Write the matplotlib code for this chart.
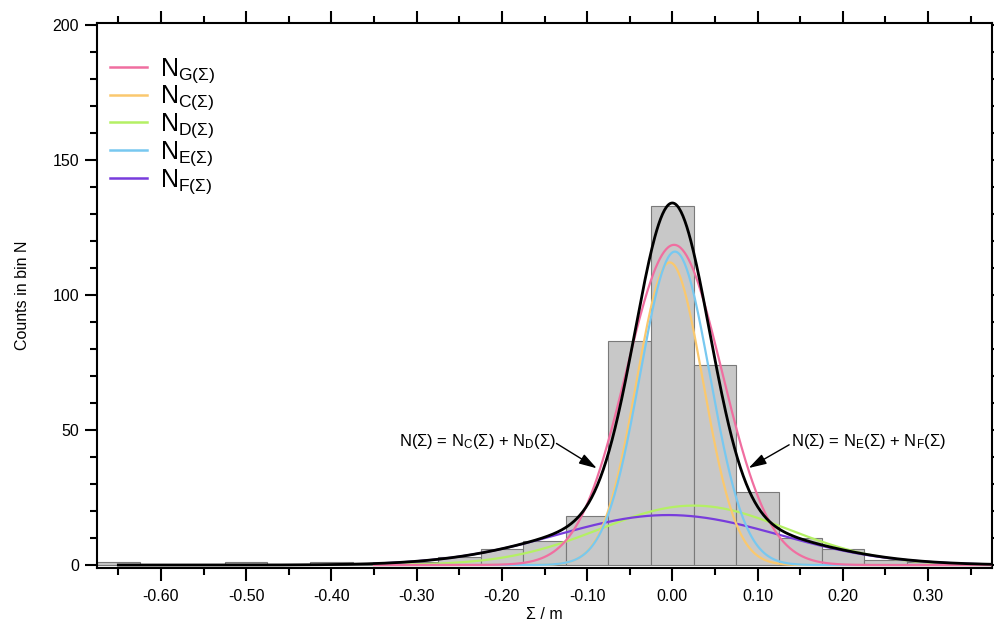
import numpy as np
import matplotlib
matplotlib.use('Agg')
import matplotlib.pyplot as plt

plt.rcParams['font.family'] = ['Liberation Sans', 'DejaVu Sans']
plt.rcParams['mathtext.fontset'] = 'custom'
plt.rcParams['mathtext.rm'] = 'Liberation Sans'
plt.rcParams['mathtext.it'] = 'Liberation Sans:italic'
plt.rcParams['mathtext.bf'] = 'Liberation Sans:bold'

# ----------------------------------------------------------------------
# histogram (bin centres in m, counts)
# ----------------------------------------------------------------------
bin_centres = [-0.65, -0.60, -0.55, -0.50, -0.45, -0.40, -0.35, -0.30,
               -0.25, -0.20, -0.15, -0.10, -0.05, 0.00, 0.05, 0.10,
               0.15, 0.20, 0.25, 0.30, 0.35]
counts = [1, 0, 0, 1, 0, 1, 0, 1,
          3, 6, 9, 18, 83, 133, 74, 27,
          10, 6, 2, 1, 0]
BIN_W = 0.05

# fitted Gaussian components: amplitude, centre, width
fit_names = ['G', 'C', 'D', 'E', 'F']
fit_amp = [118.5, 112.0, 22.0, 116.0, 18.5]
fit_mu = [0.002, -0.003, 0.025, 0.003, -0.005]
fit_sigma = [0.056, 0.039, 0.110, 0.041, 0.130]
fit_colors = ['#F06EA0', '#FAC86E', '#B4F064', '#78C8F0', '#783CDC']

# total fit N(Σ): narrow + broad part
total_amp = [115.0, 19.0]
total_mu = [0.0, -0.003]
total_sigma = [0.043, 0.130]


def gauss(x, a, mu, s):
    return a * np.exp(-(x - mu) ** 2 / (2 * s ** 2))


fig = plt.figure(figsize=(9.95, 6.22), dpi=100)
ax = fig.add_axes([0.0975, 0.0868, 0.8995, 0.8762])

ax.bar(bin_centres, counts, width=BIN_W, color='#c8c8c8',
       edgecolor='#7a7a7a', linewidth=0.8, zorder=1)

xs = np.linspace(-0.35, 0.375, 600)
draw_order = [2, 4, 1, 3, 0]  # D, F, C, E, G
for i in draw_order:
    ax.plot(xs, gauss(xs, fit_amp[i], fit_mu[i], fit_sigma[i]),
            color=fit_colors[i], lw=1.6, zorder=3)

xt = np.linspace(-0.65, 0.375, 900)
yt = sum(gauss(xt, a, m, s) for a, m, s in zip(total_amp, total_mu, total_sigma))
ax.plot(xt, yt, color='black', lw=2.0, zorder=4)

# legend (proxy handles in the order shown)
handles = []
for i in range(len(fit_names)):
    h, = ax.plot([], [], color=fit_colors[i], lw=1.8,
                 label=r'N$_{\mathrm{%s(\Sigma)}}$' % fit_names[i])
    handles.append(h)
ax.legend(handles=handles, loc='upper left', bbox_to_anchor=(-0.008, 0.976),
          frameon=False, fontsize=18, handlelength=1.5, handletextpad=0.5,
          labelspacing=-0.04, borderaxespad=0.6, borderpad=0.2)

# annotations: text and arrow drawn separately so the arrow starts at
# the end of the text like in the original
arrow_kw = dict(arrowstyle='-|>,head_length=0.6,head_width=0.18',
                color='black', lw=1.0, mutation_scale=18,
                shrinkA=0, shrinkB=0)
ax.text(-0.137, 45.8, r'N(Σ) = N$_\mathrm{C}$(Σ) + N$_\mathrm{D}$(Σ)',
        ha='right', va='center', fontsize=12)
ax.annotate('', xy=(-0.0887, 35.8), xytext=(-0.136, 45.0),
            arrowprops=arrow_kw)
ax.text(0.139, 45.8, r'N(Σ) = N$_\mathrm{E}$(Σ) + N$_\mathrm{F}$(Σ)',
        ha='left', va='center', fontsize=12)
ax.annotate('', xy=(0.0895, 35.9), xytext=(0.137, 44.5),
            arrowprops=arrow_kw)

ax.set_xlim(-0.675, 0.375)
ax.set_ylim(-1.1, 200.6)
ax.set_xticks(np.arange(-0.6, 0.31, 0.1))
ax.set_xticklabels(['-0.60', '-0.50', '-0.40', '-0.30', '-0.20', '-0.10',
                    '0.00', '0.10', '0.20', '0.30'])
ax.set_xticks(np.arange(-0.65, 0.37, 0.1), minor=True)
ax.set_yticks([0, 50, 100, 150, 200])
ax.set_yticks([v for v in range(0, 201, 10) if v % 50], minor=True)

ax.tick_params(which='both', direction='out', width=1.5,
               top=True, right=True, labelsize=11.5)
ax.tick_params(which='major', length=9)
ax.tick_params(which='minor', length=5)
ax.tick_params(axis='x', which='major', pad=6)
ax.tick_params(axis='y', which='major', pad=4)
for sp in ax.spines.values():
    sp.set_linewidth(1.5)

ax.set_xlabel('Σ / m', fontsize=11.5, labelpad=2)
ax.set_ylabel('Counts in bin N', fontsize=11.5, labelpad=16)

fig.savefig('out.png', dpi=100)
